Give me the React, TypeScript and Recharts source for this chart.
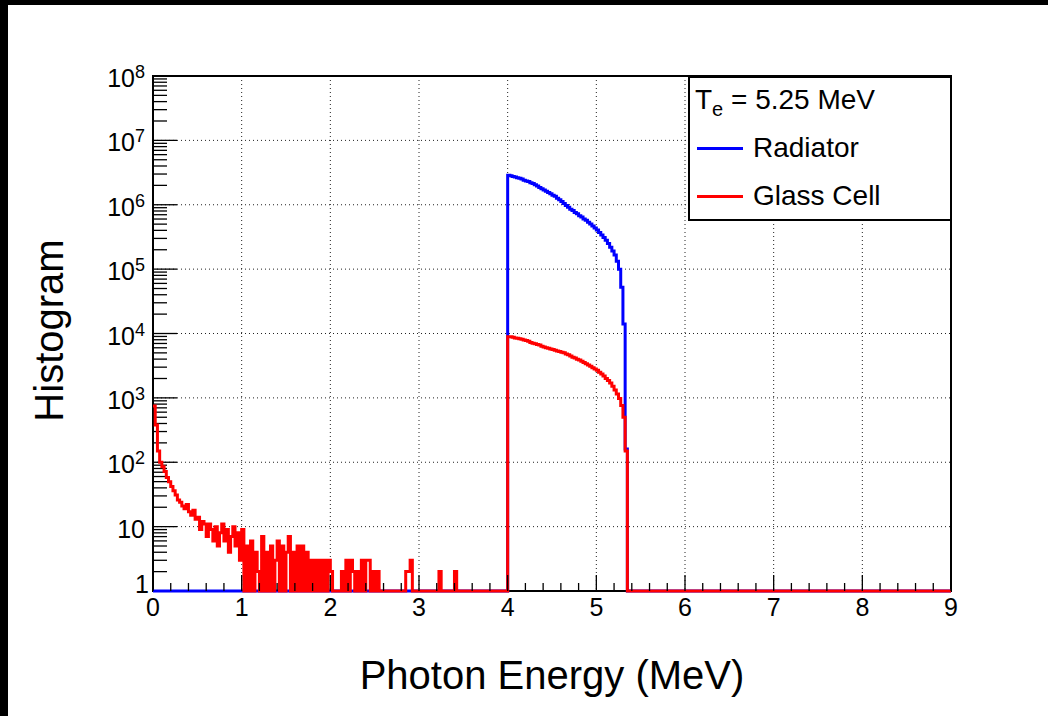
import { ComposedChart, Line, XAxis, YAxis, CartesianGrid, ReferenceArea, ReferenceLine, Legend } from 'recharts';

const FONT = '"Liberation Sans", Arial, Helvetica, sans-serif';

// 360 bins of 0.025 MeV covering 0 - 9 MeV
const BIN_WIDTH = 0.025;
const N_BINS = 360;

// electron kinetic energy shown in the legend header
const electronEnergy = 5.25;

// glass cell, bins 0..139 (0 - 3.5 MeV): low energy tail
const glassTail = [
  750, 380, 150, 100, 85, 72, 58, 50, 42, 36,
  31, 26, 24, 21, 19, 22, 17, 15, 18, 13,
  14, 9, 12, 11, 7, 11, 9, 6, 10, 5,
  8, 11, 6, 9, 4, 7, 10, 5, 8, 3,
  9, 0, 5, 0, 6, 0, 4, 2, 0, 7,
  0, 4, 0, 5, 0, 3, 6, 0, 5, 0,
  4, 7, 0, 4, 0, 5, 0, 5, 0, 4,
  0, 3, 0, 3, 0, 3, 0, 3, 0, 3,
  2, 0, 0, 0, 0, 2, 0, 3, 0, 3,
  2, 0, 2, 0, 3, 0, 3, 3, 0, 2,
  0, 2, 0, 0, 0, 0, 0, 0, 0, 0,
  0, 0, 0, 0, 2, 2, 3, 0, 0, 0,
  0, 0, 0, 0, 0, 0, 0, 0, 0, 2,
  0, 0, 0, 0, 0, 0, 2, 0, 0, 0,
];

// first bin of the 4.0 MeV edge
const EDGE_BIN = 160;

// bins from 4.000 to 5.350 MeV
const radiatorEdge = [
  2.88e6, 2.82e6, 2.75e6, 2.69e6, 2.63e6, 2.57e6, 2.51e6, 2.40e6, 2.34e6, 2.29e6,
  2.19e6, 2.14e6, 2.04e6, 1.95e6, 1.86e6, 1.78e6, 1.70e6, 1.62e6, 1.55e6, 1.48e6,
  1.41e6, 1.35e6, 1.26e6, 1.20e6, 1.12e6, 1.05e6, 9.77e5, 9.12e5, 8.51e5, 8.13e5,
  7.59e5, 7.24e5, 6.76e5, 6.46e5, 6.03e5, 5.75e5, 5.37e5, 5.01e5, 4.68e5, 4.37e5,
  4.07e5, 3.72e5, 3.39e5, 3.09e5, 2.82e5, 2.51e5, 2.19e5, 1.91e5, 1.66e5, 1.32e5,
  1.0e5, 5.25e4, 1.41e4, 160,
];

const glassEdge = [
  8900, 8900, 8710, 8510, 8450, 8320, 8130, 7940, 7760, 7590,
  7240, 7080, 6920, 6760, 6610, 6310, 6170, 6030, 5890, 5750,
  5620, 5500, 5370, 5250, 5130, 5010, 4790, 4680, 4470, 4270,
  4170, 3980, 3890, 3720, 3550, 3390, 3240, 3090, 2950, 2820,
  2690, 2510, 2340, 2190, 2000, 1860, 1700, 1510, 1320, 1150,
  980, 760, 500, 150,
];

const xTicks = [0, 1, 2, 3, 4, 5, 6, 7, 8, 9];
const yTicks = [1, 10, 1e2, 1e3, 1e4, 1e5, 1e6, 1e7, 1e8];

const series = [
  { key: 'radiator', name: 'Radiator', color: '#0000ff' },
  { key: 'glass', name: 'Glass Cell', color: '#ff0000' },
];

// minor ticks: 5 divisions per MeV, 2..9 inside each decade
const xMinorTicks: number[] = [];
for (let i = 1; i < 45; i++) if (i % 5 !== 0) xMinorTicks.push(+(i * 0.2).toFixed(1));
const yMinorTicks: number[] = [];
for (let d = 0; d < 8; d++) for (let m = 2; m <= 9; m++) yMinorTicks.push(m * Math.pow(10, d));

// empty bins sit on the axis floor (1) like a log-pad histogram
const data: { e: number; radiator: number; glass: number }[] = [];
for (let i = 0; i <= N_BINS; i++) {
  const k = i - EDGE_BIN;
  const inEdge = k >= 0 && k < radiatorEdge.length;
  const rad = inEdge ? radiatorEdge[k] : 0;
  const gl = i < glassTail.length ? glassTail[i] : inEdge ? glassEdge[k] : 0;
  data.push({ e: +(i * BIN_WIDTH).toFixed(3), radiator: Math.max(rad, 1), glass: Math.max(gl, 1) });
}

// frame geometry (px)
const W = 1048;
const H = 716;
const MARGIN = { top: 76, right: 97, bottom: 85, left: 93 };
const Y_AXIS_W = 60;
const X_AXIS_H = 40;
const X_MAX = 9;
const DECADES = 8;
const PLOT_LEFT = MARGIN.left + Y_AXIS_W;
const PLOT_W = W - PLOT_LEFT - MARGIN.right;
const PLOT_BOTTOM = H - MARGIN.bottom - X_AXIS_H;

// short tick drawn from the left frame edge into the pad
function YTickMark({ x1, x2, y1, len }: any) {
  const left = Math.min(x1, x2);
  return <line x1={left} x2={left + len} y1={y1} y2={y1} stroke="#000" strokeWidth={1.3} />;
}

// energy ticks along the bottom edge of the frame
function XTickOverlay() {
  const at = (v: number) => PLOT_LEFT + (v / X_MAX) * PLOT_W;
  return (
    <svg
      width={W}
      height={H}
      style={{ position: 'absolute', left: 0, top: 0, pointerEvents: 'none' }}
    >
      {xMinorTicks.map((v) => (
        <line key={`n${v}`} x1={at(v)} x2={at(v)} y1={PLOT_BOTTOM} y2={PLOT_BOTTOM - 8} stroke="#000" strokeWidth={1.3} />
      ))}
      {xTicks.map((v) => (
        <line key={`m${v}`} x1={at(v)} x2={at(v)} y1={PLOT_BOTTOM} y2={PLOT_BOTTOM - 16} stroke="#000" strokeWidth={1.3} />
      ))}
    </svg>
  );
}

function YTickLabel({ x, y, payload }: any) {
  const exp = Math.round(Math.log10(payload.value));
  if (exp === 0) {
    return <text x={x + 4} y={y + 2} textAnchor="end" fontFamily={FONT} fontSize={25} fill="#000">1</text>;
  }
  return (
    <text x={x} y={y + 11} textAnchor="end" fontFamily={FONT} fontSize={25} fill="#000">
      <tspan>10</tspan>
      {exp > 1 && <tspan dy={-9} fontSize={18}>{exp}</tspan>}
    </text>
  );
}

function XTickLabel({ x, y, payload }: any) {
  return (
    <text x={x} y={y} dy={17} textAnchor="middle" fontFamily={FONT} fontSize={25} fill="#000">
      {payload.value}
    </text>
  );
}

function LegendBox({ payload }: any) {
  const items = series
    .map((s) => (payload || []).find((p: any) => p.value === s.name))
    .filter(Boolean);
  return (
    <div
      style={{
        width: 264,
        height: 145,
        boxSizing: 'border-box',
        border: '2px solid #000',
        background: '#fff',
        fontFamily: FONT,
        fontSize: 28,
        color: '#000',
        position: 'relative',
      }}
    >
      <div style={{ position: 'absolute', left: 5, top: -2, lineHeight: '48px', whiteSpace: 'nowrap' }}>
        T<span style={{ fontSize: 20, position: 'relative', top: 7 }}>e</span> = {electronEnergy} MeV
      </div>
      {items.map((p: any, i: number) => (
        <div key={p.value} style={{ position: 'absolute', left: 0, top: -2 + 48 * (i + 1), height: 48, width: 260 }}>
          <div style={{ position: 'absolute', left: 7, top: 23, width: 46, height: 3, background: p.color }} />
          <div style={{ position: 'absolute', left: 63, top: 0, lineHeight: '48px', whiteSpace: 'nowrap' }}>{p.value}</div>
        </div>
      ))}
    </div>
  );
}

export default function App() {
  return (
    <div style={{ position: 'relative', width: W, height: H, background: '#fff', overflow: 'hidden' }}>
      <style>{'body{margin:0}'}</style>
      <div style={{ position: 'absolute', left: 0, top: 0 }}>
        <ComposedChart width={W} height={H} data={data} margin={MARGIN}>
          <CartesianGrid stroke="#222" strokeDasharray="1 3" />
          <XAxis
            dataKey="e"
            type="number"
            domain={[0, X_MAX]}
            ticks={xTicks}
            interval={0}
            height={X_AXIS_H}
            axisLine={false}
            tickLine={false}
            tickSize={0}
            tickMargin={8}
            tick={<XTickLabel />}
            label={({ viewBox }: any) => (
              <text
                x={viewBox.x + viewBox.width / 2}
                y={viewBox.y + 98}
                textAnchor="middle"
                fontFamily={FONT}
                fontSize={40}
                fill="#000"
              >
                Photon Energy (MeV)
              </text>
            )}
          />
          <YAxis
            type="number"
            scale="log"
            domain={[1, Math.pow(10, DECADES)]}
            ticks={yTicks}
            interval={0}
            width={Y_AXIS_W}
            axisLine={false}
            tickLine={false}
            tickSize={0}
            tickMargin={8}
            tick={<YTickLabel />}
            label={({ viewBox }: any) => {
              const cx = viewBox.x + viewBox.width - 90;
              const cy = viewBox.y + viewBox.height / 2 - 3;
              return (
                <text
                  x={cx}
                  y={cy}
                  transform={`rotate(-90 ${cx} ${cy})`}
                  textAnchor="middle"
                  fontFamily={FONT}
                  fontSize={40}
                  fill="#000"
                >
                  Histogram
                </text>
              );
            }}
          />
          <ReferenceArea x1={0} x2={X_MAX} y1={1} y2={Math.pow(10, DECADES)} fill="none" stroke="#000" strokeWidth={2} />
          {yTicks.map((v) => (
            <ReferenceLine key={`ym${v}`} y={v} ifOverflow="visible" shape={<YTickMark len={24} />} />
          ))}
          {yMinorTicks.map((v) => (
            <ReferenceLine key={`yn${v}`} y={v} ifOverflow="visible" shape={<YTickMark len={14} />} />
          ))}
          {series.map((s) => (
            <Line
              key={s.key}
              dataKey={s.key}
              name={s.name}
              type="stepAfter"
              stroke={s.color}
              strokeWidth={3}
              dot={false}
              activeDot={false}
              isAnimationActive={false}
            />
          ))}
          <Legend
            layout="horizontal"
            verticalAlign="middle"
            align="center"
            content={<LegendBox />}
            wrapperStyle={{ left: 688, top: 76, width: 264, height: 145 }}
          />
        </ComposedChart>
      </div>
      <XTickOverlay />
      <div style={{ position: 'absolute', left: 0, top: 0, width: W, height: 5, background: '#000' }} />
      <div style={{ position: 'absolute', left: 0, top: 0, width: 8, height: H, background: '#000' }} />
    </div>
  );
}
